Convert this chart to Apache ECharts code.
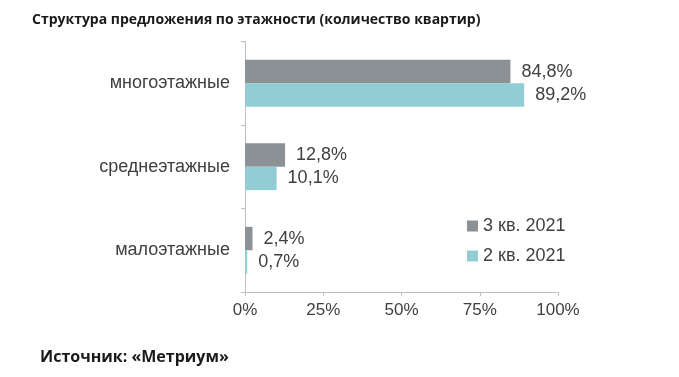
<!DOCTYPE html>
<html>
<head>
<meta charset="utf-8">
<script src="https://cdn.jsdelivr.net/npm/echarts@6/dist/echarts.min.js"></script>
<style>
  html, body { margin: 0; padding: 0; background: #fff; }
  #main { width: 679px; height: 377px; }
</style>
</head>
<body>
<div id="main"></div>
<script>
// categories from top to bottom
var categories = ['многоэтажные', 'среднеэтажные', 'малоэтажные'];
var q3_2021 = [84.8, 12.8, 2.4];
var q2_2021 = [89.2, 10.1, 0.7];
var seriesNames = ['3 кв. 2021', '2 кв. 2021'];
var xTicks = [0, 25, 50, 75, 100];

var textColor = '#404040';
var fontFam = '"Liberation Sans", Arial, sans-serif';

function fmt(v) {
  return String(v).replace('.', ',') + '%';
}

var myChart = echarts.init(document.getElementById('main'));
myChart.setOption({
  animation: false,
  title: [
    {
      text: 'Структура предложения по этажности (количество квартир)',
      left: 27, top: 8,
      textStyle: { fontFamily: '"Open Sans", sans-serif', fontWeight: 'bold', fontSize: 14, color: '#1a1a1a' }
    },
    {
      text: 'Источник: «Метриум»',
      left: 35, top: 344,
      textStyle: { fontFamily: '"Open Sans", sans-serif', fontWeight: 'bold', fontSize: 16, color: '#1a1a1a' }
    }
  ],
  legend: {
    orient: 'vertical',
    left: 462, top: 212,
    itemWidth: 11, itemHeight: 11,
    itemGap: 12,
    icon: 'rect',
    textStyle: { fontFamily: fontFam, fontSize: 18, color: textColor },
    data: seriesNames
  },
  grid: { left: 245, right: 121, top: 41.5, bottom: 85 },
  xAxis: {
    type: 'value',
    min: 0, max: 100, interval: 25,
    axisLine: { show: true, lineStyle: { color: '#bfbfbf' } },
    axisTick: { show: true, length: 4, lineStyle: { color: '#bfbfbf' } },
    splitLine: { show: false },
    axisLabel: {
      fontFamily: fontFam, fontSize: 17, color: textColor, margin: 10,
      formatter: function (v) { return xTicks.indexOf(v) >= 0 ? v + '%' : ''; }
    }
  },
  yAxis: {
    type: 'category',
    inverse: true,
    data: categories,
    axisLine: { show: true, lineStyle: { color: '#bfbfbf' } },
    axisTick: { show: true, length: 4, lineStyle: { color: '#bfbfbf' } },
    axisLabel: { fontFamily: fontFam, fontSize: 18, color: textColor, margin: 15 }
  },
  series: [
    {
      name: seriesNames[0],
      type: 'bar',
      data: q3_2021,
      barGap: '0%',
      barCategoryGap: '44%',
      itemStyle: { color: '#8c9196' },
      label: {
        show: true, position: 'right', distance: 11,
        fontFamily: fontFam, fontSize: 18, color: textColor,
        formatter: function (p) { return fmt(p.value); }
      }
    },
    {
      name: seriesNames[1],
      type: 'bar',
      data: q2_2021,
      itemStyle: { color: '#92cdd5' },
      label: {
        show: true, position: 'right', distance: 11,
        fontFamily: fontFam, fontSize: 18, color: textColor,
        formatter: function (p) { return fmt(p.value); }
      }
    }
  ]
});
</script>
</body>
</html>
